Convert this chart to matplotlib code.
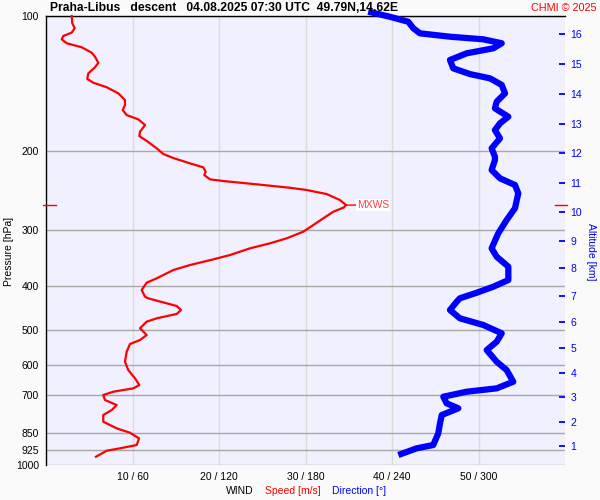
import numpy as np
import matplotlib.pyplot as plt
from matplotlib.ticker import FixedLocator, NullLocator
from matplotlib.transforms import blended_transform_factory

plt.rcParams['font.family'] = ['Liberation Sans', 'DejaVu Sans']

# ─── Data ────────────────────────────────────────────────────────────────────
speed_p = [100.0, 103.8, 106.5, 108.9, 110.8, 112.7, 115.0, 117.4, 120.7, 123.2,
           127.1, 130.1, 134.2, 138.1, 140.8, 144.1, 148.7, 153.9, 157.8, 162.0,
           166.2, 169.9, 174.9, 181.0, 185.1, 189.8, 197.1, 202.9, 207.2, 212.9,
           217.3, 222.3, 226.1, 231.1, 233.1, 237.1, 241.3, 244.1, 249.2, 257.0,
           263.7, 266.8, 272.9, 282.2, 292.1, 302.2, 312.7, 320.8, 329.2, 340.7,
           348.3, 358.6, 367.9, 383.9, 392.6, 407.6, 421.9, 425.3, 436.4, 442.5,
           451.6, 460.9, 471.3, 479.5, 496.0, 513.4, 526.7, 537.7, 559.4, 588.8,
           614.4, 641.2, 663.6, 675.0, 686.7, 698.5, 716.6, 735.3, 754.3, 773.9,
           801.0, 828.6, 847.5, 872.1, 902.6, 918.0, 929.4, 958.3]
speed_ms = [2.97, 3.04, 3.32, 2.97, 2.00, 1.82, 2.39, 4.13, 5.28, 5.66,
            6.05, 5.66, 4.89, 4.77, 5.47, 7.02, 8.36, 9.13, 9.13, 8.87,
            9.33, 10.67, 11.45, 10.87, 10.79, 11.64, 12.80, 13.56, 14.72, 16.65,
            18.18, 18.46, 18.30, 18.96, 20.50, 24.36, 28.20, 30.14, 32.45, 33.99,
            34.68, 34.45, 33.21, 32.06, 30.90, 29.75, 27.83, 25.90, 23.58, 21.27,
            19.34, 16.65, 14.72, 12.80, 11.64, 11.06, 11.45, 11.80, 13.95, 15.11,
            15.61, 15.11, 12.80, 11.64, 10.87, 11.64, 10.87, 9.71, 9.33, 9.13,
            9.51, 10.29, 10.79, 10.09, 7.78, 6.62, 6.82, 8.17, 7.60, 6.62,
            6.62, 8.17, 9.71, 10.75, 10.49, 8.55, 7.02, 5.78]

dir_p = [97.8, 100.4, 103.0, 106.5, 109.3, 111.2, 112.7, 115.0, 118.0, 121.1,
         125.3, 130.8, 134.7, 137.7, 142.4, 148.7, 155.2, 160.6, 167.6, 173.4,
         179.5, 187.3, 197.1, 205.8, 209.3, 220.3, 229.9, 237.9, 248.3, 268.1,
         284.7, 304.8, 329.2, 343.6, 361.7, 387.3, 400.8, 413.4, 425.3, 432.8,
         451.6, 471.3, 487.7, 508.9, 531.5, 554.6, 588.8, 614.4, 652.5, 675.0,
         686.7, 704.6, 728.8, 747.8, 773.9, 807.5, 850.1, 902.6, 918.0, 950.0]
dir_deg = [223.5, 238.6, 251.3, 254.8, 259.4, 280.2, 303.3, 316.1, 310.3, 291.8,
           280.2, 282.5, 294.1, 308.0, 316.1, 318.4, 312.6, 311.4, 320.7, 314.9,
           311.4, 314.9, 309.1, 311.4, 311.4, 309.1, 314.9, 325.3, 327.6, 325.3,
           319.5, 313.7, 309.1, 312.6, 320.7, 320.7, 310.3, 298.7, 287.1, 284.9,
           280.2, 287.1, 303.3, 316.1, 312.6, 305.7, 312.6, 319.5, 324.1, 312.6,
           291.8, 275.6, 277.9, 286.0, 274.5, 273.3, 272.1, 268.6, 257.1, 244.4]

pressure_ticks = [100, 200, 300, 400, 500, 600, 700, 850, 925, 1000]
speed_ticks = [10, 20, 30, 40, 50]
speed_tick_labels = ['10 / 60', '20 / 120', '30 / 180', '40 / 240', '50 / 300']
alt_km = [1, 2, 3, 4, 5, 6, 7, 8, 9, 10, 11, 12, 13, 14, 15, 16]
alt_p = [907.3, 802.5, 705.8, 623.9, 548.9, 480.3, 420.4, 364.1,
         317.0, 273.3, 235.5, 202.4, 174.4, 149.2, 127.6, 109.7]

RED = '#FF0000'
BLUE = '#0000FF'

# ─── Figure ──────────────────────────────────────────────────────────────────
fig = plt.figure(figsize=(6, 5), dpi=100, facecolor='#FAFAFA')
ax = fig.add_axes([46 / 600, 35 / 500, 519 / 600, 449 / 500])
ax.set_facecolor('#F0F0FF')
ax.set_yscale('log')
ax.set_ylim(1000, 100)
ax.set_xlim(0, 60)

ax.yaxis.set_major_locator(FixedLocator(pressure_ticks))
ax.yaxis.set_minor_locator(NullLocator())
ax.set_yticklabels([str(p) for p in pressure_ticks])
ax.set_xticks(speed_ticks)
ax.set_xticklabels(speed_tick_labels)
ax.tick_params(axis='both', length=0, labelsize=7.5, colors='black')
ax.tick_params(axis='y', pad=5)
ax.tick_params(axis='x', pad=5)

ax.set_axisbelow(True)
ax.grid(True, axis='y', color='#A8A8A8', lw=1.0)
ax.grid(True, axis='x', color='#DCDCDC', lw=1.0)

for s in ['right', 'bottom']:
    ax.spines[s].set_visible(False)
ax.spines['left'].set_color('black')
ax.spines['top'].set_color('black')
ax.spines['left'].set_linewidth(1.0)
ax.spines['top'].set_linewidth(1.0)

# speed
ax.plot(speed_ms, speed_p, color=RED, lw=1.6, clip_on=False, zorder=3)

# direction on its own x scale (0-360)
ax_dir = ax.twiny()
ax_dir.set_xlim(0, 360)
ax_dir.set_xticks([])
for s in ax_dir.spines.values():
    s.set_visible(False)
ax_dir.plot(dir_deg, dir_p, color=BLUE, lw=4.5, clip_on=False,
            solid_capstyle='butt', solid_joinstyle='round', zorder=3)

# altitude axis
ax_alt = ax.twinx()
ax_alt.set_yscale('log')
ax_alt.set_ylim(1000, 100)
ax_alt.yaxis.set_major_locator(FixedLocator(alt_p))
ax_alt.yaxis.set_minor_locator(NullLocator())
ax_alt.set_yticklabels([str(k) for k in alt_km])
ax_alt.tick_params(axis='y', direction='in', length=4.5, width=1.3,
                   colors=BLUE, labelsize=7.5, pad=4)
for s in ax_alt.spines.values():
    s.set_visible(False)

# max wind marker
i_max = int(np.argmax(speed_ms))
p_max = speed_p[i_max]
trans = blended_transform_factory(ax.transAxes, ax.transData)
ax.plot([-0.006, 0.02], [p_max, p_max], color=RED, lw=1.0, transform=trans,
        clip_on=False, zorder=4)
ax.plot([0.98, 1.004], [p_max, p_max], color=RED, lw=1.0, transform=trans,
        clip_on=False, zorder=4)
ax.annotate('MXWS', xy=(speed_ms[i_max], p_max), xytext=(8, 0),
            textcoords='offset points', color='#FF4040', fontsize=7.5,
            va='center', ha='left',
            bbox=dict(boxstyle='square,pad=0.1', fc='white', ec='none'),
            arrowprops=dict(arrowstyle='-', color=RED, lw=1.0,
                            shrinkA=0, shrinkB=0))

# ─── Texts ───────────────────────────────────────────────────────────────────
fig.text(9 / 600, 1 - 251 / 500, 'Pressure [hPa]', fontsize=7.5,
         rotation=90, va='center', ha='center')
fig.text(591 / 600, 1 - 252 / 500, 'Altitude [km]', color=BLUE, fontsize=7.5,
         rotation=270, va='center', ha='center')

fig.text(50 / 600, 1 - 8 / 500,
         'Praha-Libus   descent   04.08.2025 07:30 UTC  49.79N,14.62E',
         fontsize=8.7, fontweight='bold', va='center', ha='left')
fig.text(597 / 600, 1 - 8 / 500, 'CHMI © 2025', color=RED, fontsize=7.8,
         va='center', ha='right')

fig.text(226 / 600, 1 - 491 / 500, 'WIND', fontsize=7.5, va='center', ha='left')
fig.text(265 / 600, 1 - 491 / 500, 'Speed [m/s]', color=RED, fontsize=7.5,
         va='center', ha='left')
fig.text(332 / 600, 1 - 491 / 500, 'Direction [°]', color=BLUE, fontsize=7.5,
         va='center', ha='left')

fig.savefig('out.png', dpi=100, facecolor=fig.get_facecolor())
